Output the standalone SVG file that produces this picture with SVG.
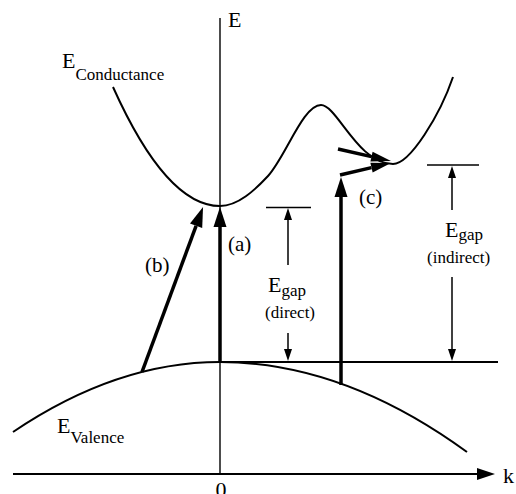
<svg xmlns="http://www.w3.org/2000/svg" width="516" height="494" viewBox="0 0 516 494">
<style>
text{font-family:'Liberation Serif','DejaVu Serif',serif;fill:#000}
.curve{fill:none;stroke:#000;stroke-width:2}
.axis{fill:none;stroke:#000;stroke-width:1.4}
.thick{fill:none;stroke:#000;stroke-width:3.5}
.thin{fill:none;stroke:#000;stroke-width:1.5}
</style>
<defs>
<marker id="big" markerUnits="userSpaceOnUse" markerWidth="22" markerHeight="14" refX="0" refY="7" orient="auto" overflow="visible"><path d="M0,0.5 L20,7 L0,13.5Z" fill="#000"/></marker>
<marker id="narrow" markerUnits="userSpaceOnUse" markerWidth="22" markerHeight="12" refX="0" refY="6" orient="auto" overflow="visible"><path d="M0,1 L20,6 L0,11Z" fill="#000"/></marker>
<marker id="small" markerUnits="userSpaceOnUse" markerWidth="13" markerHeight="9" refX="0" refY="4.5" orient="auto" overflow="visible"><path d="M0,0.5 L12,4.5 L0,8.5Z" fill="#000"/></marker>
<marker id="axisHead" markerUnits="userSpaceOnUse" markerWidth="19" markerHeight="13" refX="0" refY="6.5" orient="auto" overflow="visible"><path d="M0,0.5 L18,6.5 L0,12.5Z" fill="#000"/></marker>
</defs>

<g id="axes">
<line class="axis" x1="220" y1="18" x2="220" y2="474"/>
<line x1="13" y1="474" x2="477" y2="474" stroke="#000" stroke-width="2" marker-end="url(#axisHead)"/>
<text font-family="Liberation Serif, serif" x="228" y="27" font-size="22">E</text>
<text font-family="Liberation Serif, serif" x="503" y="483" font-size="22">k</text>
<text font-family="Liberation Serif, serif" x="221" y="497" font-size="22" text-anchor="middle">0</text>
</g>

<g id="conduction-band">
<path class="curve" d="M113,87 Q166.5,206 220,206 C238,206 255,190 268,176 C286,156 303,105 321,105 C337,105 358,164 393,164 C410,164 440,115 453,77"/>
<text font-family="Liberation Serif, serif" x="62" y="68" font-size="22">E<tspan dy="12" font-size="17">Conductance</tspan></text>
</g>

<g id="valence-band">
<path class="curve" d="M13,432 Q116.5,362 220,362 Q343.5,362 467,452"/>
<text font-family="Liberation Serif, serif" x="57" y="433" font-size="22">E<tspan dy="10" font-size="17">Valence</tspan></text>
</g>

<g id="reference-lines">
<line class="curve" x1="220" y1="362" x2="498" y2="362"/>
<line class="thin" x1="266" y1="207.5" x2="311" y2="207.5"/>
<line class="thin" x1="427" y1="165" x2="479" y2="165"/>
</g>

<g id="connectors">
<line class="thick" x1="220" y1="362" x2="220" y2="227" marker-end="url(#big)"/>
<line class="thick" x1="142" y1="372" x2="196.1" y2="225.8" marker-end="url(#big)"/>
<line class="thick" x1="341" y1="385" x2="341" y2="197" marker-end="url(#big)"/>
<line class="thick" x1="338" y1="149" x2="371.5" y2="156.6" marker-end="url(#narrow)"/>
<line class="thick" x1="340" y1="175" x2="371.5" y2="167.6" marker-end="url(#narrow)"/>
<line class="thin" x1="288" y1="265" x2="288" y2="220" marker-end="url(#small)"/>
<line class="thin" x1="288" y1="333" x2="288" y2="349" marker-end="url(#small)"/>
<line class="thin" x1="452" y1="210" x2="452" y2="178" marker-end="url(#small)"/>
<line class="thin" x1="452" y1="277" x2="452" y2="349" marker-end="url(#small)"/>
</g>

<g id="label-a"><text font-family="Liberation Serif, serif" x="228" y="251" font-size="21">(a)</text></g>
<g id="label-b"><text font-family="Liberation Serif, serif" x="145" y="272" font-size="21">(b)</text></g>
<g id="label-c"><text font-family="Liberation Serif, serif" x="359" y="204" font-size="21">(c)</text></g>

<g id="gap-direct">
<text font-family="Liberation Serif, serif" x="268" y="292" font-size="22">E<tspan dy="4" font-size="17">gap</tspan></text>
<text font-family="Liberation Serif, serif" x="265" y="318" font-size="17">(direct)</text>
</g>

<g id="gap-indirect">
<text font-family="Liberation Serif, serif" x="445" y="237" font-size="22">E<tspan dy="3" font-size="17">gap</tspan></text>
<text font-family="Liberation Serif, serif" x="427" y="263" font-size="17">(indirect)</text>
</g>
</svg>
